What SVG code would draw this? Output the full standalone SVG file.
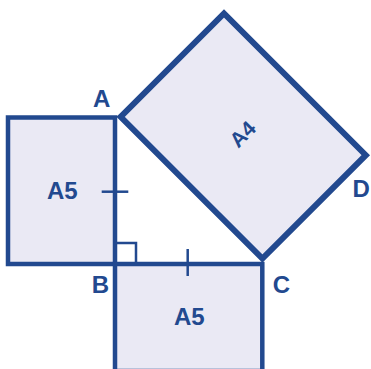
<svg xmlns="http://www.w3.org/2000/svg" width="371" height="369" viewBox="0 0 371 369">
<style>
.sheet{fill:#EAE9F4;stroke:#22498F;stroke-linejoin:miter}
.a5{stroke-width:4.5}
.a4{stroke-width:6}
.mark{fill:none;stroke:#22498F;stroke-width:2.5}
text{font-family:"Liberation Sans",Arial,sans-serif;font-weight:bold;fill:#22498F}
.lbl{font-size:24px}
</style>
<rect width="371" height="369" fill="#FFFFFF"/>
<g id="sheet-left-A5">
<rect class="sheet a5" x="8" y="117.5" width="107" height="146.5"/>
<text class="lbl" x="62.3" y="199" text-anchor="middle">A5</text>
</g>
<g id="sheet-bottom-A5">
<rect class="sheet a5" x="115" y="264" width="147.3" height="107"/>
<text class="lbl" x="189.3" y="325" text-anchor="middle">A5</text>
</g>
<g id="sheet-A4">
<polygon class="sheet a4" points="120.6,116.8 224,13.4 365.8,155.2 262.4,258.6"/>
<text font-size="21" text-anchor="middle" transform="translate(242.5,134) rotate(-45)" x="0" y="7.5">A4</text>
</g>
<g id="marks">
<line class="mark" x1="101.7" y1="191.7" x2="128.3" y2="191.7"/>
<line class="mark" x1="187.7" y1="249" x2="187.7" y2="276"/>
<polyline class="mark" points="115,243 136,243 136,264"/>
</g>
<g id="vertex-labels">
<text class="lbl" x="101.7" y="106.7" text-anchor="middle">A</text>
<text class="lbl" x="100.5" y="292.7" text-anchor="middle">B</text>
<text class="lbl" x="281.3" y="293" text-anchor="middle">C</text>
<text class="lbl" x="352.5" y="196.7">D</text>
</g>
</svg>
